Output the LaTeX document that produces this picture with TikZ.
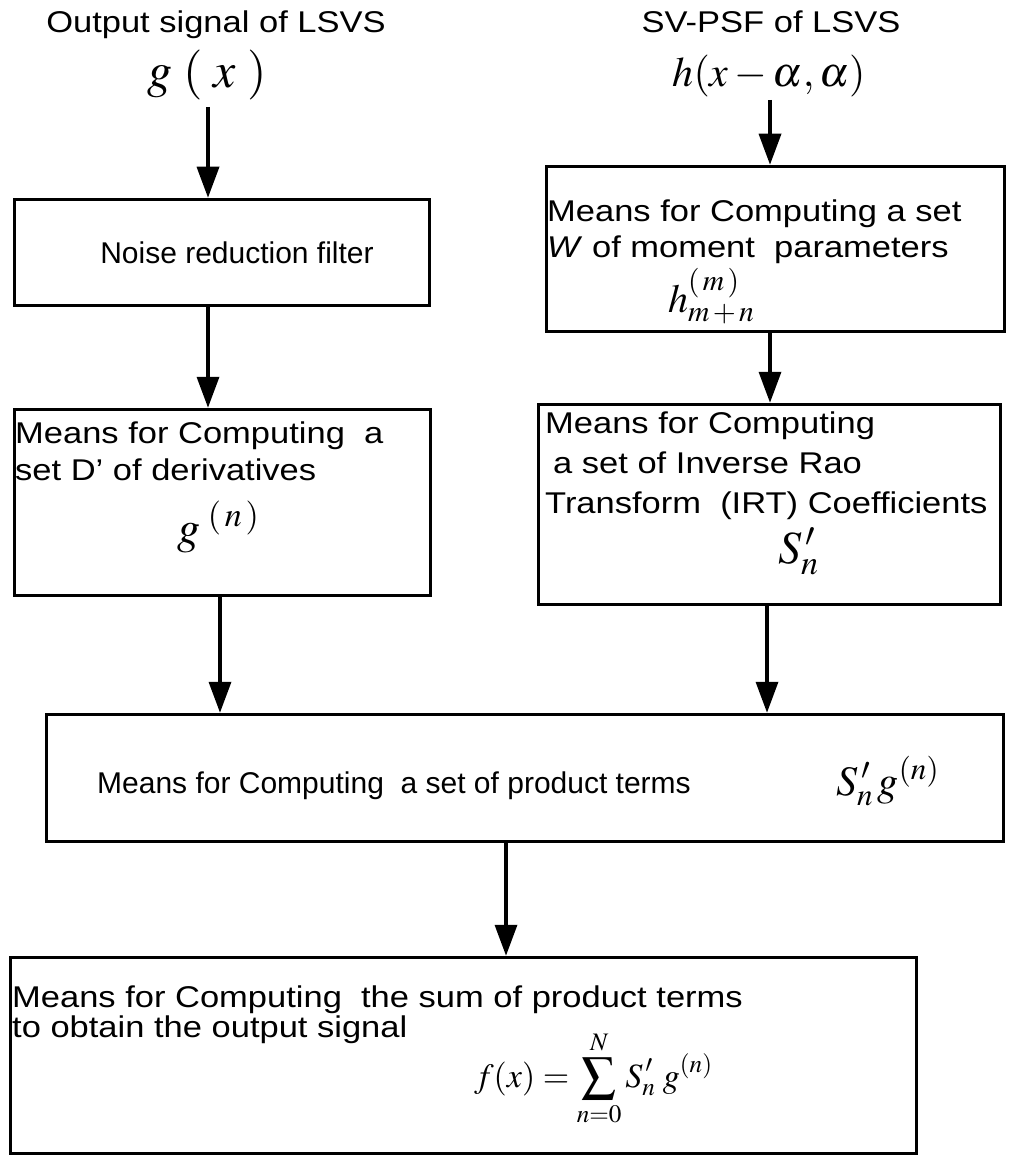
\documentclass[tikz,border=0pt]{standalone}
\usepackage{mathptmx}
\usepackage{fontspec}
\setmainfont{Liberation Sans}[FakeStretch=1.15]
\newfontfamily\narrowsans{Liberation Sans}
\usetikzlibrary{arrows.meta}
\begin{document}
\begin{tikzpicture}[x=1pt,y=-1pt,
  box/.style={draw,line width=3.5pt,inner sep=0pt,fill=none},
  txt/.style={inner sep=0pt,anchor=base west,font=\fontsize{30}{36}\selectfont},
  ctxt/.style={inner sep=0pt,anchor=base,font=\fontsize{30}{36}\selectfont},
  mth/.style={inner sep=0pt,anchor=base west},
  arr/.style={line width=3.5pt,-{Triangle[width=22pt,length=31pt]}}]
\useasboundingbox (0,0) rectangle (1009,1158);
% boxes
\node[box,minimum width=415pt,minimum height=106pt] (noise) at (222,252.5) {};
\node[box,minimum width=416pt,minimum height=186pt] (deriv) at (222.5,502.5) {};
\node[box,minimum width=458pt,minimum height=165pt] (wbox) at (775.5,249) {};
\node[box,minimum width=462pt,minimum height=200pt] (irt) at (769.5,504.5) {};
\node[box,minimum width=957pt,minimum height=127pt] (prod) at (525,778) {};
\node[box,minimum width=906pt,minimum height=196pt] (sum) at (463.5,1055.5) {};
% inputs
\node[ctxt] (in1) at (216,33) {Output signal of LSVS};
\node[mth,anchor=base] (gx) at (207,88) {\fontsize{50}{60}\selectfont $g\;(\;x\;)$};
\node[ctxt] (in2) at (771,33) {SV-PSF of LSVS};
\node[mth,anchor=base] (hx) at (769,87) {\fontsize{42}{50}\selectfont $h(x-\alpha,\alpha)$};
% box texts
\node[ctxt,font=\fontsize{30}{36}\selectfont\narrowsans] (t1) at (237,263) {Noise reduction filter};
\node[txt] (t2) at (15,443) {Means for Computing\ \ a};
\node[txt] (t3) at (15,480) {set D' of derivatives};
\node[mth] (m1) at (177,543) {\fontsize{46}{54}\selectfont $g^{\;(\,n\,)}$};
\node[txt] (t4) at (547,222) {Means for Computing a set};
\node[txt] (t5) at (547,258) {\textit{W} of moment\ \ parameters};
\node[mth] (m2) at (668,312) {\fontsize{40}{48}\selectfont $h_{m\,+\,n}^{(\,m\,)}$};
\node[txt] (t6) at (545,433) {Means for Computing};
\node[txt] (t7) at (553,473) {a set of Inverse Rao};
\node[txt] (t8) at (545,513) {Transform\ \ (IRT) Coefficients};
\node[mth] (m3) at (778,563) {\fontsize{46}{54}\selectfont $S_n^{\,\prime}$};
\node[txt,font=\fontsize{30}{36}\selectfont\narrowsans] (t9) at (97,793) {Means for Computing\ \ a set of product terms};
\node[mth] (m4) at (836,795) {\fontsize{42}{50}\selectfont $S_n^{\,\prime}\,g^{(n)}$};
\node[txt] (t10) at (12,1007) {Means for Computing\ \ the sum of product terms};
\node[txt] (t11) at (12,1037) {to obtain the output signal};
\node[mth] (m5) at (474,1087) {\fontsize{34}{40}\selectfont $\displaystyle f(x)=\sum_{n=0}^{N} S_n^{\,\prime}\;g^{(n)}$};
% arrow coordinates
\coordinate (a1) at (208,107);
\coordinate (a2) at (208,0);
\coordinate (a3) at (220,0);
\coordinate (b1) at (770,100);
\coordinate (b2) at (770,0);
\coordinate (b3) at (767,0);
\coordinate (c1) at (506,0);
% arrows
\draw[arr] (a1) -- (noise.north -| a1);
\draw[arr] (noise.south -| a2) -- (deriv.north -| a2);
\draw[arr] (deriv.south -| a3) -- (prod.north -| a3);
\draw[arr] (b1) -- (wbox.north -| b1);
\draw[arr] (wbox.south -| b2) -- (irt.north -| b2);
\draw[arr] (irt.south -| b3) -- (prod.north -| b3);
\draw[arr] (prod.south -| c1) -- (sum.north -| c1);
\end{tikzpicture}
\end{document}
